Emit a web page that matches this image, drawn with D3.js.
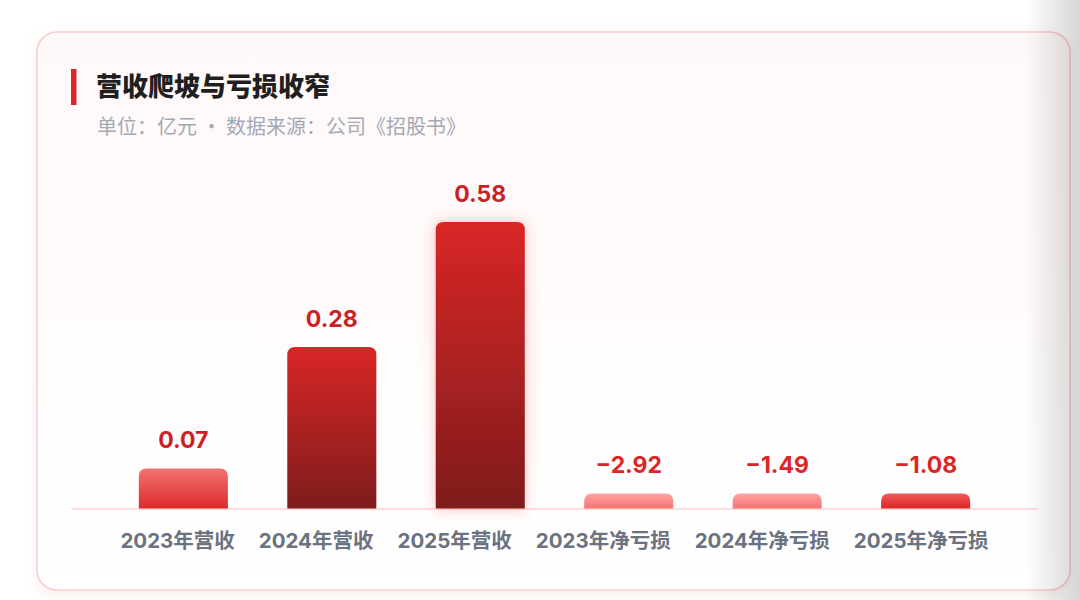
<!DOCTYPE html>
<html lang="zh-CN">
<head>
<meta charset="utf-8">
<title>营收爬坡与亏损收窄</title>
<script src="https://cdn.jsdelivr.net/npm/d3@7"></script>
<style>
  html, body { margin: 0; padding: 0; background: #ffffff; }
  #chart { width: 1080px; height: 600px; }
  text { font-family: "Inter", "Noto Sans CJK SC", "Noto Sans", sans-serif; }
</style>
</head>
<body>
<div id="chart"></div>
<script>
// Data (单位：亿元)
const categories = ['2023年营收', '2024年营收', '2025年营收', '2023年净亏损', '2024年净亏损', '2025年净亏损'];
const values = [0.07, 0.28, 0.58, -2.92, -1.49, -1.08];
const valueLabels = ['0.07', '0.28', '0.58', '−2.92', '−1.49', '−1.08'];

const title = '营收爬坡与亏损收窄';
const subtitle = '单位：亿元 · 数据来源：公司《招股书》';

// Bar tones (top, bottom) per category
const tones = [
    ['#f47272', '#de2a2a'],
    ['#d92626', '#7f1c1c'],
    ['#d92626', '#7f1c1c'],
    ['#fca5a5', '#f87272'],
    ['#fca5a5', '#f87272'],
    ['#f25a5a', '#dc2626']
];

const W = 1080, H = 600;
const margin = { top: 222, right: 43, bottom: 91.5, left: 72 };
const baseY = H - margin.bottom;
const stubHeight = 15;   // negative values drawn as short stubs
const radius = 8;

const svg = d3.select('#chart')
    .append('svg')
    .attr('width', W)
    .attr('height', H);

const defs = svg.append('defs');

// Card gradient
const cardGrad = defs.append('linearGradient')
    .attr('id', 'card-bg')
    .attr('x1', 0).attr('y1', 0).attr('x2', 0).attr('y2', 1);
cardGrad.append('stop').attr('offset', '0%').attr('stop-color', '#fff8f8');
cardGrad.append('stop').attr('offset', '100%').attr('stop-color', '#ffffff');

const cardShadow = defs.append('filter')
    .attr('id', 'card-shadow')
    .attr('x', '-5%').attr('y', '-5%').attr('width', '110%').attr('height', '115%');
cardShadow.append('feDropShadow')
    .attr('dx', 0).attr('dy', 4).attr('stdDeviation', 6)
    .attr('flood-color', '#f4b4b4').attr('flood-opacity', 0.25);

// Bar gradients
tones.forEach((t, i) => {
    const g = defs.append('linearGradient')
        .attr('id', `bar-grad-${i}`)
        .attr('x1', 0).attr('y1', 0).attr('x2', 0).attr('y2', 1);
    g.append('stop').attr('offset', '0%').attr('stop-color', t[0]);
    g.append('stop').attr('offset', '100%').attr('stop-color', t[1]);
});

const glow = defs.append('filter')
    .attr('id', 'bar-glow')
    .attr('x', '-40%').attr('y', '-20%').attr('width', '180%').attr('height', '140%');
glow.append('feDropShadow')
    .attr('dx', 0).attr('dy', 0).attr('stdDeviation', 7)
    .attr('flood-color', '#ef4444').attr('flood-opacity', 0.35);

// Right page edge shade
const edgeGrad = defs.append('linearGradient')
    .attr('id', 'edge-shade')
    .attr('x1', 0).attr('y1', 0).attr('x2', 1).attr('y2', 0);
edgeGrad.append('stop').attr('offset', '0%').attr('stop-color', '#000').attr('stop-opacity', 0);
edgeGrad.append('stop').attr('offset', '100%').attr('stop-color', '#000').attr('stop-opacity', 0.16);

// Card
svg.append('rect')
    .attr('x', 37).attr('y', 32)
    .attr('width', 1033).attr('height', 558)
    .attr('rx', 20)
    .attr('fill', 'url(#card-bg)')
    .attr('stroke', '#fbcaca')
    .attr('stroke-width', 1.5)
    .attr('filter', 'url(#card-shadow)');

// Title
svg.append('rect')
    .attr('x', 71).attr('y', 69)
    .attr('width', 5.5).attr('height', 36)
    .attr('fill', '#dc2626');

svg.append('text')
    .attr('x', 96).attr('y', 96)
    .style('font-family', '"Noto Sans CJK SC", sans-serif')
    .style('font-size', '26px')
    .style('font-weight', 900)
    .style('fill', '#1f1f1f')
    .text(title);

svg.append('text')
    .attr('x', 97).attr('y', 134)
    .style('font-family', '"Noto Sans CJK SC", sans-serif')
    .style('font-size', '20px')
    .style('fill', '#a3a9b5')
    .text(subtitle);

// Scales
const x = d3.scaleBand()
    .domain(categories)
    .range([margin.left, W - margin.right])
    .paddingInner(0.4)
    .paddingOuter(0.45);

const y = d3.scalePow()
    .exponent(0.66)
    .domain([0.025, d3.max(values)])
    .range([baseY, margin.top]);

const barTop = v => v > 0 ? y(v) : baseY - stubHeight;

function topRoundedBar(x0, y0, w, h, r) {
    const rr = Math.min(r, h, w / 2);
    return `M${x0},${y0 + h}` +
        `V${y0 + rr}` +
        `Q${x0},${y0} ${x0 + rr},${y0}` +
        `H${x0 + w - rr}` +
        `Q${x0 + w},${y0} ${x0 + w},${y0 + rr}` +
        `V${y0 + h}Z`;
}

const rows = categories.map((c, i) => ({ cat: c, value: values[i], label: valueLabels[i], i }));

// Baseline
svg.append('line')
    .attr('x1', margin.left).attr('x2', W - margin.right)
    .attr('y1', baseY + 0.5).attr('y2', baseY + 0.5)
    .attr('stroke', '#fcd3d3')
    .attr('stroke-width', 1.5);

// Bars
svg.append('g')
    .attr('class', 'bars')
    .selectAll('path')
    .data(rows)
    .join('path')
    .attr('d', d => {
        const t = barTop(d.value);
        return topRoundedBar(x(d.cat), t, x.bandwidth(), baseY - t, radius);
    })
    .attr('fill', d => `url(#bar-grad-${d.i})`)
    .attr('filter', d => d.value === d3.max(values) ? 'url(#bar-glow)' : null);

// Value labels
svg.append('g')
    .attr('class', 'value-labels')
    .selectAll('text')
    .data(rows)
    .join('text')
    .attr('x', d => x(d.cat) + x.bandwidth() / 2)
    .attr('y', d => barTop(d.value) - 20.5)
    .attr('text-anchor', 'middle')
    .style('font-size', '23px')
    .style('font-weight', 700)
    .style('fill', d => d.value > 0 ? '#c92127' : '#dc2626')
    .text(d => d.label);

// Category labels: packed row with a fixed gap, centred under the plot
const catGroup = svg.append('g').attr('class', 'cat-labels');
const catTexts = catGroup.selectAll('text')
    .data(rows)
    .join('text')
    .attr('y', baseY + 39.5)
    .style('font-size', '20.5px')
    .style('font-weight', 700)
    .style('fill', '#6b7280')
    .text(d => d.cat);

const gap = 24;
const widths = catTexts.nodes().map(n => n.getComputedTextLength());
const total = d3.sum(widths) + gap * (widths.length - 1);
let cursor = (margin.left + W - margin.right) / 2 - total / 2;
catTexts.each(function (d, i) {
    d3.select(this).attr('x', cursor);
    cursor += widths[i] + gap;
});

// Page edge shade on the right
svg.append('rect')
    .attr('x', 1025).attr('y', 0)
    .attr('width', 55).attr('height', H)
    .attr('fill', 'url(#edge-shade)')
    .style('pointer-events', 'none');
</script>
</body>
</html>
